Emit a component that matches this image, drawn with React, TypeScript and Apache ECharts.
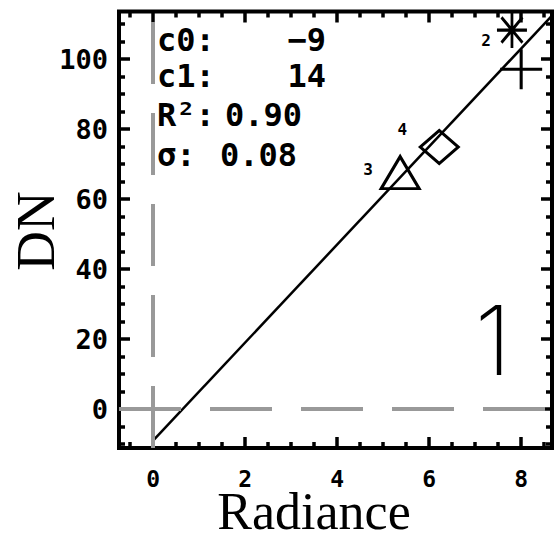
import React, { useEffect, useRef } from "react";
import * as echarts from "echarts";

// ---- data ----
const radiance = [5.37, 6.22, 7.8, 8.0];
const dn = [67.6, 74.9, 108.3, 97.1];
const pointLabels = ["3", "4", "2", ""];

const fitX = [0, 8.67];
const fitY = [-9, 112.4];

const xMajor = [0, 2, 4, 6, 8];
const xMinor = [-0.5, 0.5, 1, 1.5, 2.5, 3, 3.5, 4.5, 5, 5.5, 6.5, 7, 7.5, 8.5];
const yMajor = [0, 20, 40, 60, 80, 100];
const yMinor = [-10, -5, 5, 10, 15, 25, 30, 35, 45, 50, 55, 65, 70, 75, 85, 90, 95, 105, 110];

const statLabels = ["c0:", "c1:", "R²:", "σ:"];
const statValues = ["−9", "14", "0.90", "0.08"];

const XMIN = -0.74;
const XMAX = 8.67;
const YMIN = -11.1;
const YMAX = 113.6;

// ---- styles ----
const ASTERISK = "path://M0,-10L0,10M-10,0L10,0M-7,-7L7,7M-7,7L7,-7";
const PLUS = "path://M0,-10L0,10M-10,0L10,0";
const markerSymbols = ["triangle", "diamond", ASTERISK, PLUS];
const markerSizes = [[38, 32], [38, 33], [30, 36], [42, 40]];
const labelOffsets = [[-32, -3], [-37, -17], [-26, 10], [0, 0]];

const tickFont = '"DejaVu Sans Mono"';

function xAxisDef(position: string, values: number[], len: number, labels: boolean) {
  return {
    type: "value",
    gridIndex: 0,
    position,
    min: XMIN,
    max: XMAX,
    axisLine: { show: false, onZero: false },
    splitLine: { show: false },
    axisTick: {
      show: true,
      inside: true,
      length: len,
      customValues: values,
      lineStyle: { color: "#000", width: 3.5 },
    },
    axisLabel: labels
      ? {
          show: true,
          customValues: values,
          margin: 22,
          color: "#000",
          fontFamily: tickFont,
          fontWeight: "bold",
          fontSize: 23,
          lineHeight: 18,
        }
      : { show: false },
  };
}

function yAxisDef(position: string, values: number[], len: number, labels: boolean) {
  return {
    type: "value",
    gridIndex: 0,
    position,
    min: YMIN,
    max: YMAX,
    axisLine: { show: false, onZero: false },
    splitLine: { show: false },
    axisTick: {
      show: true,
      inside: true,
      length: len,
      customValues: values,
      lineStyle: { color: "#000", width: 3.5 },
    },
    axisLabel: labels
      ? {
          show: true,
          customValues: values,
          margin: 11,
          color: "#000",
          fontFamily: tickFont,
          fontWeight: "bold",
          fontSize: 27,
        }
      : { show: false },
  };
}

export default function App() {
  const ref = useRef<HTMLDivElement>(null);

  useEffect(() => {
    if (!ref.current) return;
    const chart = echarts.init(ref.current, undefined, { renderer: "svg" });

    const scatterData = radiance.map((x, i) => ({
      value: [x, dn[i]],
      symbol: markerSymbols[i],
      symbolSize: markerSizes[i],
      label: { offset: labelOffsets[i] },
    }));

    const statRowsY = [40, 76, 115, 155];
    const graphics: any[] = [];
    statLabels.forEach((t, i) => {
      graphics.push({
        type: "text",
        style: {
          text: t,
          x: 157,
          y: statRowsY[i],
          fill: "#000",
          font: 'bold 32px "DejaVu Sans Mono"',
          textAlign: "left",
          textVerticalAlign: "middle",
        },
        z: 10,
      });
    });
    statValues.forEach((t, i) => {
      const right = i < 2;
      graphics.push({
        type: "text",
        style: {
          text: t,
          x: right ? 326 : i === 2 ? 225 : 220,
          y: statRowsY[i],
          fill: "#000",
          font: 'bold 32px "DejaVu Sans Mono"',
          textAlign: right ? "right" : "left",
          textVerticalAlign: "middle",
        },
        z: 10,
      });
    });
    graphics.push({
      type: "text",
      style: {
        text: "1",
        x: 493,
        y: 340,
        fill: "#000",
        font: '200 96px Inter',
        textAlign: "center",
        textVerticalAlign: "middle",
      },
      z: 10,
    });
    graphics.push({
      type: "text",
      rotation: Math.PI / 2,
      x: 35,
      y: 231,
      style: {
        text: "DN",
        x: 0,
        y: 0,
        fill: "#000",
        font: '55px "Liberation Serif"',
        textAlign: "center",
        textVerticalAlign: "middle",
      },
    });
    graphics.push({
      type: "text",
      style: {
        text: "Radiance",
        x: 314,
        y: 511,
        fill: "#000",
        font: '52px "Liberation Serif"',
        lineHeight: 38,
        textAlign: "center",
        textVerticalAlign: "middle",
      },
    });

    chart.setOption({
      animation: false,
      backgroundColor: "#fff",
      grid: {
        left: 119,
        top: 11.5,
        width: 433,
        height: 436.5,
        show: true,
        borderColor: "#000",
        borderWidth: 4,
        backgroundColor: "transparent",
        containLabel: false,
      },
      xAxis: [
        xAxisDef("bottom", xMajor, 11, true),
        xAxisDef("bottom", xMinor, 6, false),
        xAxisDef("top", xMajor, 11, false),
        xAxisDef("top", xMinor, 6, false),
      ],
      yAxis: [
        yAxisDef("left", yMajor, 11, true),
        yAxisDef("left", yMinor, 6, false),
        yAxisDef("right", yMajor, 11, false),
        yAxisDef("right", yMinor, 6, false),
      ],
      series: [
        {
          type: "line",
          name: "fit",
          xAxisIndex: 0,
          yAxisIndex: 0,
          data: fitX.map((x, i) => [x, fitY[i]]),
          symbol: "none",
          lineStyle: { color: "#000", width: 2.5 },
          silent: true,
          z: 3,
          markLine: {
            silent: true,
            symbol: ["none", "none"],
            label: { show: false },
            lineStyle: { color: "#999", width: 4, type: [62, 29], opacity: 1 },
            data: [
              [{ coord: [0, YMIN] }, { coord: [0, YMAX] }],
              [{ coord: [XMIN, 0] }, { coord: [XMAX, 0] }],
            ],
          },
        },
        {
          type: "scatter",
          name: "points",
          xAxisIndex: 0,
          yAxisIndex: 0,
          data: scatterData,
          itemStyle: { color: "transparent", borderColor: "#000", borderWidth: 3, opacity: 1 },
          label: {
            show: true,
            position: "inside",
            formatter: (p: any) => pointLabels[p.dataIndex],
            color: "#000",
            fontFamily: tickFont,
            fontWeight: "bold",
            fontSize: 16,
          },
          z: 4,
        },
      ],
      graphic: graphics,
    });

    return () => chart.dispose();
  }, []);

  return (
    <div
      ref={ref}
      style={{ position: "fixed", left: 0, top: 0, width: 556, height: 539 }}
    />
  );
}
